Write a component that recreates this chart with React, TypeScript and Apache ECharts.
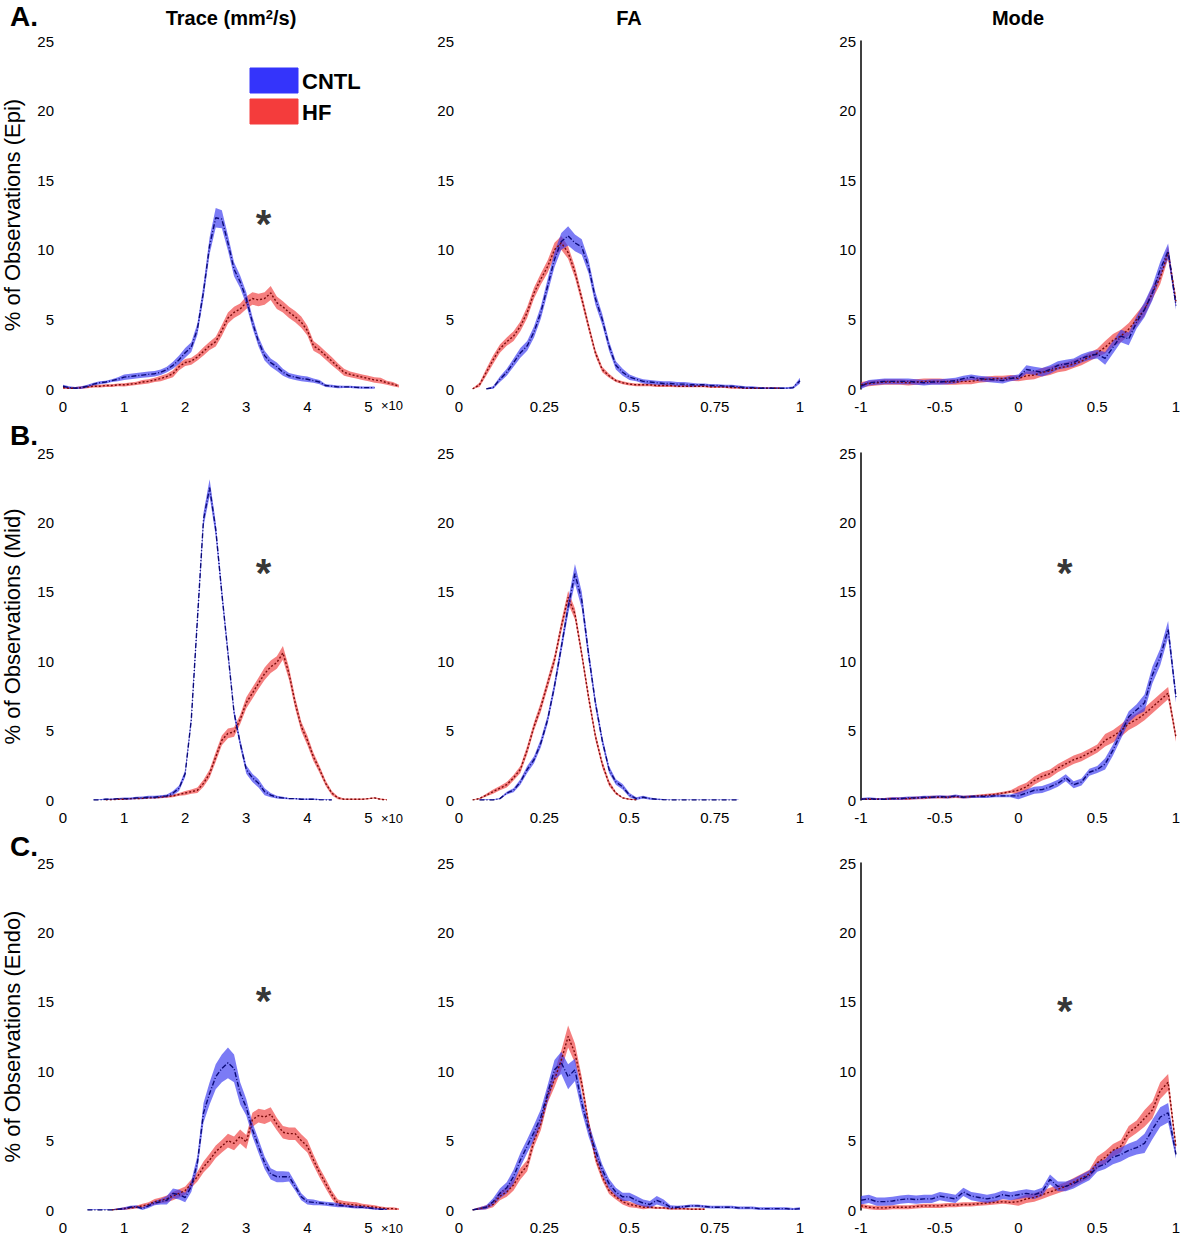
import React, { useEffect, useRef } from "react";
import * as echarts from "echarts";

// ---------- x grids ----------
const traceX = [0,0.1,0.2,0.3,0.4,0.5,0.6,0.7,0.8,0.9,1,1.1,1.2,1.3,1.4,1.5,1.6,1.7,1.8,1.9,2,2.1,2.2,2.3,2.4,2.5,2.6,2.7,2.8,2.9,3,3.1,3.2,3.3,3.4,3.5,3.6,3.7,3.8,3.9,4,4.1,4.2,4.3,4.4,4.5,4.6,4.7,4.8,4.9,5,5.1,5.2,5.3,5.4,5.5];
const faX = [0,0.02,0.04,0.06,0.08,0.1,0.12,0.14,0.16,0.18,0.2,0.22,0.24,0.26,0.28,0.3,0.32,0.34,0.36,0.38,0.4,0.42,0.44,0.46,0.48,0.5,0.52,0.54,0.56,0.58,0.6,0.62,0.64,0.66,0.68,0.7,0.72,0.74,0.76,0.78,0.8,0.82,0.84,0.86,0.88,0.9,0.92,0.94,0.96,0.98,1];
const modeX = [-1,-0.95,-0.9,-0.85,-0.8,-0.75,-0.7,-0.65,-0.6,-0.55,-0.5,-0.45,-0.4,-0.35,-0.3,-0.25,-0.2,-0.15,-0.1,-0.05,0,0.05,0.1,0.15,0.2,0.25,0.3,0.35,0.4,0.45,0.5,0.55,0.6,0.65,0.7,0.75,0.8,0.85,0.9,0.95,1];

const N = null;

// ---------- Trace (x10^-3 mm^2/s) ----------
const epiTraceCntl = [0.2,0.1,0.05,0.1,0.2,0.35,0.45,0.5,0.6,0.7, 0.85,0.9,0.95,1.0,1.05,1.1,1.2,1.4,1.7,2.1, 2.6,3.0,4.3,7.0,10.3,12.3,12.2,10.5,8.6,7.7, 6.5,4.8,3.4,2.4,1.9,1.6,1.2,0.95,0.85,0.75, 0.7,0.6,0.5,0.25,0.2,0.15,0.15,0.15,0.12,0.1, 0.1,0.1,N,N,N,N];
const epiTraceCntlErr = [0.1,0.1,0.1,0.1,0.1,0.1,0.1,0.1,0.1,0.15, 0.2,0.2,0.2,0.2,0.2,0.2,0.2,0.2,0.25,0.3, 0.35,0.35,0.4,0.5,0.6,0.7,0.65,0.55,0.5,0.45, 0.45,0.4,0.35,0.35,0.3,0.3,0.25,0.2,0.2,0.2, 0.2,0.15,0.15,0.1,0.1,0.1,0.08,0.08,0.08,0.08, 0.08,0.08,N,N,N,N];
const epiTraceHf = [0.1,0.05,0.05,0.1,0.15,0.2,0.2,0.25,0.25,0.3, 0.3,0.35,0.4,0.5,0.55,0.65,0.75,0.9,1.1,1.6, 1.9,2.0,2.3,2.7,3.1,3.4,4.2,5.1,5.5,5.75, 6.2,6.5,6.4,6.5,6.9,6.2,5.9,5.5,5.2,4.8, 4.2,3.1,2.8,2.4,2.0,1.6,1.2,1.05,0.95,0.85, 0.75,0.65,0.6,0.45,0.35,0.2];
const epiTraceHfErr = [0.1,0.1,0.1,0.1,0.1,0.1,0.1,0.1,0.1,0.1, 0.12,0.12,0.12,0.15,0.15,0.15,0.2,0.2,0.25,0.25, 0.25,0.25,0.25,0.3,0.3,0.35,0.4,0.4,0.4,0.4, 0.45,0.45,0.45,0.45,0.5,0.45,0.4,0.4,0.4,0.4, 0.35,0.35,0.3,0.3,0.3,0.25,0.25,0.2,0.2,0.2, 0.2,0.2,0.2,0.15,0.15,0.1];

const midTraceCntl = [N,N,N,N,N,0,0,0.05,0.05,0.1, 0.1,0.1,0.15,0.15,0.2,0.2,0.25,0.3,0.5,0.85, 1.9,5.8,13.0,20.2,22.5,19.5,14.9,10.6,6.3,4.1, 2.2,1.6,1.2,0.6,0.35,0.2,0.15,0.1,0.1,0.05, 0.05,0.05,0.02,0,0,N,N,N,N,N, N,N,N,N,N,N];
const midTraceCntlErr = [N,N,N,N,N,0.05,0.05,0.05,0.05,0.05, 0.08,0.08,0.08,0.1,0.1,0.1,0.1,0.1,0.15,0.2, 0.25,0.3,0.4,0.5,0.6,0.5,0.4,0.35,0.3,0.3, 0.3,0.3,0.3,0.25,0.15,0.1,0.08,0.05,0.05,0.05, 0.05,0.05,0.05,0.05,0.05,N,N,N,N,N, N,N,N,N,N,N];
const midTraceHf = [N,N,N,N,N,N,N,0,0.02,0.05, 0.05,0.1,0.1,0.12,0.15,0.15,0.2,0.25,0.3,0.4, 0.5,0.6,0.7,1.2,1.9,3.1,4.3,4.8,4.9,5.8, 7.0,7.7,8.4,9.1,9.6,9.9,10.6,9.1,7.0,5.3, 4.3,3.1,2.2,1.2,0.5,0.15,0.05,0.05,0.05,0.05, 0.1,0.15,0.05,0,N,N];
const midTraceHfErr = [N,N,N,N,N,N,N,0.05,0.05,0.05, 0.05,0.05,0.05,0.05,0.05,0.05,0.08,0.08,0.1,0.1, 0.15,0.15,0.2,0.25,0.3,0.35,0.35,0.35,0.35,0.35, 0.4,0.4,0.4,0.45,0.45,0.45,0.5,0.45,0.4,0.35, 0.35,0.3,0.25,0.2,0.15,0.1,0.05,0.05,0.05,0.05, 0.05,0.05,0.05,0.05,N,N];

const endoTraceCntl = [N,N,N,N,0,0,0,0,0,0.05, 0.1,0.2,0.25,0.1,0.3,0.5,0.6,0.7,1.2,1.1, 0.9,1.7,3.4,7.0,8.4,9.6,10.2,10.6,10.2,8.4, 7.4,5.8,4.6,3.4,2.6,2.4,2.4,2.4,1.7,0.95, 0.6,0.55,0.5,0.45,0.4,0.35,0.3,0.25,0.2,0.2, 0.15,0.1,0.05,0.05,N,N];
const endoTraceCntlErr = [N,N,N,N,0.05,0.05,0.05,0.05,0.05,0.08, 0.1,0.1,0.1,0.1,0.15,0.15,0.2,0.3,0.35,0.35, 0.35,0.4,0.5,0.7,0.8,0.9,1.0,1.1,1.0,0.8, 0.6,0.5,0.5,0.45,0.4,0.4,0.4,0.35,0.3,0.25, 0.2,0.2,0.15,0.15,0.15,0.15,0.1,0.1,0.1,0.1, 0.08,0.08,0.05,0.05,N,N];
const endoTraceHf = [N,N,N,N,N,N,N,N,0,0.05, 0.1,0.15,0.2,0.3,0.4,0.6,0.7,0.8,1.0,1.2, 1.4,1.9,2.4,3.1,3.6,4.2,4.6,5.0,4.8,5.3, 4.9,6.5,6.8,6.7,6.9,6.2,5.6,5.5,5.5,5.0, 4.6,3.6,2.7,1.9,1.1,0.5,0.45,0.4,0.35,0.3, 0.25,0.2,0.15,0.1,0.1,0.05];
const endoTraceHfErr = [N,N,N,N,N,N,N,N,0.05,0.05, 0.1,0.1,0.1,0.15,0.15,0.2,0.2,0.25,0.3,0.3, 0.3,0.3,0.35,0.4,0.45,0.45,0.45,0.5,0.5,0.5, 0.5,0.5,0.5,0.5,0.5,0.45,0.45,0.45,0.45,0.45, 0.45,0.4,0.35,0.35,0.3,0.25,0.2,0.2,0.2,0.15, 0.15,0.15,0.1,0.1,0.1,0.08];

// ---------- FA ----------
const epiFaCntl = [N,N,N,N,0,0.1,0.7,1.2,1.9,2.6, 3.1,4.1,5.5,7.4,9.3,10.6,11.0,10.5,10.2,8.8, 6.5,5.0,3.1,1.7,1.2,0.85,0.7,0.55,0.5,0.45, 0.4,0.4,0.35,0.35,0.3,0.3,0.3,0.25,0.25,0.2, 0.2,0.15,0.1,0.1,0.05,0.05,0.05,0.05,0.05,0.1, 0.6];
const epiFaCntlErr = [N,N,N,N,0.05,0.1,0.2,0.25,0.3,0.35, 0.35,0.4,0.45,0.5,0.55,0.6,0.7,0.6,0.55,0.5, 0.45,0.4,0.35,0.3,0.25,0.2,0.15,0.15,0.15,0.15, 0.15,0.15,0.15,0.15,0.15,0.1,0.1,0.1,0.1,0.1, 0.1,0.1,0.1,0.1,0.1,0.08,0.08,0.08,0.08,0.08, 0.2];
const epiFaHf = [N,N,0,0.3,1.2,2.1,2.9,3.4,3.8,4.5, 5.5,6.9,7.9,8.8,10.0,10.5,9.8,8.4,6.5,4.5, 2.6,1.4,0.95,0.6,0.45,0.35,0.3,0.3,0.3,0.25, 0.25,0.25,0.2,0.2,0.2,0.2,0.2,0.15,0.15,0.15, 0.1,0.1,0.05,0.05,0.05,0.05,0.05,0.05,N,N, N];
const epiFaHfErr = [N,N,0.05,0.15,0.25,0.3,0.3,0.3,0.35,0.35, 0.4,0.4,0.4,0.45,0.5,0.5,0.45,0.4,0.35,0.3, 0.25,0.2,0.15,0.1,0.1,0.1,0.1,0.1,0.1,0.1, 0.1,0.1,0.08,0.08,0.08,0.08,0.08,0.08,0.08,0.08, 0.08,0.08,0.08,0.08,0.08,0.08,0.08,0.08,N,N, N];

const midFaCntl = [N,N,N,0,0,0,0.1,0.5,0.7,1.3, 2.2,2.9,4.1,5.8,8.2,11.0,13.9,16.3,14.4,10.5, 7.0,4.3,2.2,1.3,0.95,0.35,0.1,0.2,0.1,0.05, 0.02,0,0,0,0,0,0,0,0,0, 0,0,N,N,N,N,N,N,N,N, N];
const midFaCntlErr = [N,N,N,0.05,0.05,0.05,0.05,0.1,0.15,0.2, 0.25,0.25,0.3,0.3,0.35,0.4,0.5,0.7,0.6,0.45, 0.35,0.3,0.25,0.2,0.2,0.15,0.1,0.1,0.08,0.05, 0.05,0.03,0.03,0.03,0.03,0.03,0.03,0.03,0.03,0.03, 0.03,0.03,N,N,N,N,N,N,N,N, N];
const midFaHf = [N,N,0,0.1,0.35,0.6,0.85,1.1,1.6,2.2, 3.6,5.3,6.7,8.4,10.1,12.5,14.6,13.4,10.5,7.4, 4.6,2.6,1.2,0.5,0.15,0.05,0,N,N,N, N,N,N,N,N,N,N,N,N,N, N,N,N,N,N,N,N,N,N,N, N];
const midFaHfErr = [N,N,0.03,0.05,0.1,0.15,0.15,0.2,0.2,0.25, 0.3,0.3,0.35,0.35,0.35,0.4,0.45,0.4,0.35,0.35, 0.3,0.25,0.2,0.1,0.05,0.05,0.03,N,N,N, N,N,N,N,N,N,N,N,N,N, N,N,N,N,N,N,N,N,N,N, N];

const endoFaCntl = [N,N,0,0.1,0.2,0.6,1.2,1.6,2.4,3.6, 4.6,5.6,6.7,8.4,10.1,10.6,9.6,10.1,7.7,5.8, 4.3,2.9,1.9,1.3,0.95,0.95,0.7,0.5,0.4,0.7, 0.5,0.2,0.2,0.25,0.3,0.3,0.25,0.2,0.2,0.2, 0.2,0.15,0.15,0.15,0.1,0.1,0.1,0.1,0.1,0.05, 0.1];
const endoFaCntlErr = [N,N,0.05,0.1,0.15,0.25,0.35,0.4,0.5,0.5, 0.5,0.55,0.55,0.6,0.7,0.8,0.9,0.8,0.6,0.5, 0.45,0.4,0.35,0.3,0.3,0.3,0.3,0.25,0.25,0.3, 0.25,0.15,0.1,0.1,0.1,0.1,0.1,0.1,0.1,0.1, 0.1,0.1,0.1,0.1,0.1,0.1,0.1,0.1,0.1,0.1, 0.1];
const endoFaHf = [N,N,0,0.1,0.2,0.4,1.0,1.3,1.8,2.6, 3.2,5.0,6.2,8.2,9.4,10.8,12.5,11.3,9.1,6.2, 3.8,2.4,1.4,0.95,0.6,0.4,0.3,0.2,0.2,0.15, 0.15,0.1,0.1,0.1,0.05,0.05,0.05,N,N,N, N,N,N,N,N,N,N,N,N,N, N];
const endoFaHfErr = [N,N,0.05,0.1,0.15,0.2,0.3,0.35,0.4,0.4, 0.4,0.45,0.45,0.5,0.55,0.7,0.8,0.7,0.5,0.4, 0.35,0.3,0.25,0.2,0.2,0.2,0.15,0.15,0.1,0.08, 0.08,0.08,0.08,0.08,0.08,0.08,0.08,N,N,N, N,N,N,N,N,N,N,N,N,N, N];

// ---------- Mode ----------
const epiModeCntl = [0.2,0.45,0.5,0.55,0.55,0.55,0.55,0.5,0.45,0.5, 0.5,0.55,0.6,0.75,0.85,0.75,0.7,0.65,0.6,0.75, 0.85,1.4,1.3,1.2,1.4,1.7,1.8,1.9,2.2,2.4, 2.5,2.2,3.0,3.8,3.6,4.8,5.7,6.9,8.6,9.9, 6.0];
const epiModeCntlErr = [0.2,0.2,0.2,0.2,0.2,0.2,0.2,0.2,0.2,0.2, 0.2,0.2,0.2,0.2,0.2,0.2,0.2,0.2,0.2,0.2, 0.2,0.3,0.3,0.3,0.3,0.3,0.3,0.3,0.3,0.3, 0.3,0.45,0.45,0.45,0.45,0.45,0.55,0.55,0.55,0.55, 0.3];
const epiModeHf = [0.3,0.4,0.45,0.5,0.5,0.5,0.45,0.5,0.55,0.55, 0.55,0.5,0.5,0.55,0.55,0.65,0.7,0.75,0.75,0.8, 0.75,0.95,1.0,1.2,1.3,1.5,1.6,1.8,2.0,2.3, 2.6,3.0,3.5,3.8,4.3,5.0,5.7,6.9,8.0,9.8, 6.3];
const epiModeHfErr = [0.2,0.2,0.2,0.2,0.2,0.2,0.2,0.2,0.2,0.2, 0.2,0.2,0.2,0.2,0.2,0.2,0.2,0.2,0.2,0.2, 0.2,0.3,0.3,0.3,0.3,0.3,0.3,0.3,0.3,0.3, 0.3,0.45,0.45,0.45,0.45,0.45,0.45,0.45,0.45,0.45, 0.3];

const midModeCntl = [0.05,0.1,0.05,0.05,0.1,0.1,0.15,0.15,0.2,0.2, 0.25,0.2,0.3,0.2,0.25,0.25,0.25,0.3,0.3,0.3, 0.3,0.5,0.7,0.75,0.95,1.2,1.6,1.1,1.3,2.0, 2.2,2.6,3.6,4.8,6.0,6.5,7.0,9.0,10.3,12.3, 7.4];
const midModeCntlErr = [0.1,0.1,0.1,0.1,0.1,0.1,0.1,0.1,0.1,0.1, 0.1,0.1,0.1,0.1,0.1,0.1,0.1,0.1,0.1,0.1, 0.25,0.25,0.25,0.25,0.25,0.25,0.25,0.25,0.25,0.25, 0.25,0.4,0.4,0.4,0.4,0.4,0.6,0.6,0.6,0.6, 0.4];
const midModeHf = [0.05,0.05,0.05,0.05,0.1,0.1,0.1,0.15,0.15,0.2, 0.2,0.2,0.25,0.2,0.25,0.3,0.35,0.4,0.5,0.6, 0.7,0.95,1.4,1.7,1.9,2.3,2.6,2.9,3.1,3.4, 3.7,4.3,4.6,5.0,5.5,5.8,6.2,6.7,7.2,7.7, 4.5];
const midModeHfErr = [0.1,0.1,0.1,0.1,0.1,0.1,0.1,0.1,0.1,0.1, 0.1,0.1,0.1,0.1,0.1,0.1,0.1,0.1,0.1,0.1, 0.3,0.3,0.3,0.3,0.3,0.3,0.3,0.3,0.3,0.3, 0.3,0.45,0.45,0.45,0.45,0.45,0.45,0.45,0.45,0.45, 0.3];

const endoModeCntl = [0.7,0.8,0.6,0.6,0.65,0.75,0.8,0.75,0.8,0.8, 1.0,0.9,0.8,1.3,1.0,0.9,0.8,0.9,1.1,1.0, 1.1,1.2,1.1,1.3,2.2,1.7,1.7,1.9,2.2,2.5, 3.1,3.3,3.8,4.0,4.3,4.5,4.8,5.8,6.7,7.0, 4.0];
const endoModeCntlErr = [0.3,0.3,0.3,0.3,0.3,0.3,0.3,0.3,0.3,0.3, 0.3,0.3,0.3,0.3,0.3,0.3,0.3,0.3,0.3,0.3, 0.3,0.3,0.3,0.3,0.35,0.35,0.35,0.35,0.35,0.35, 0.35,0.35,0.5,0.5,0.5,0.5,0.7,0.7,0.7,0.7, 0.3];
const endoModeHf = [0.3,0.2,0.15,0.15,0.2,0.2,0.2,0.25,0.3,0.3, 0.3,0.35,0.35,0.4,0.4,0.45,0.5,0.55,0.6,0.55, 0.6,0.8,0.9,1.1,1.3,1.5,1.7,2.0,2.3,2.6, 3.4,3.8,4.3,4.6,5.6,6.0,6.6,7.2,8.6,9.2, 4.5];
const endoModeHfErr = [0.15,0.15,0.15,0.15,0.15,0.15,0.15,0.15,0.15,0.15, 0.15,0.15,0.15,0.15,0.15,0.15,0.15,0.15,0.15,0.15, 0.3,0.3,0.3,0.3,0.3,0.3,0.3,0.3,0.3,0.3, 0.45,0.45,0.45,0.45,0.45,0.45,0.6,0.6,0.6,0.6, 0.3];

// ---------- labels ----------
const columnTitles = ["Trace (mm{sup|2}/s)", "FA", "Mode"];
const rowLetters = ["A.", "B.", "C."];
const rowNames = ["% of Observations (Epi)", "% of Observations (Mid)", "% of Observations (Endo)"];
const legendNames = ["CNTL", "HF"];
const yTicks = { min: 0, max: 25, interval: 5 };
const xTicks = [
  { min: 0, max: 5.5, interval: 1 },
  { min: 0, max: 1, interval: 0.25 },
  { min: -1, max: 1, interval: 0.5 },
];

type Arr = (number | null)[];
interface Panel { row: number; col: number; x: number[]; cntl: Arr; cntlErr: Arr; hf: Arr; hfErr: Arr; }

const panels: Panel[] = [
  { row: 0, col: 0, x: traceX, cntl: epiTraceCntl, cntlErr: epiTraceCntlErr, hf: epiTraceHf, hfErr: epiTraceHfErr },
  { row: 0, col: 1, x: faX, cntl: epiFaCntl, cntlErr: epiFaCntlErr, hf: epiFaHf, hfErr: epiFaHfErr },
  { row: 0, col: 2, x: modeX, cntl: epiModeCntl, cntlErr: epiModeCntlErr, hf: epiModeHf, hfErr: epiModeHfErr },
  { row: 1, col: 0, x: traceX, cntl: midTraceCntl, cntlErr: midTraceCntlErr, hf: midTraceHf, hfErr: midTraceHfErr },
  { row: 1, col: 1, x: faX, cntl: midFaCntl, cntlErr: midFaCntlErr, hf: midFaHf, hfErr: midFaHfErr },
  { row: 1, col: 2, x: modeX, cntl: midModeCntl, cntlErr: midModeCntlErr, hf: midModeHf, hfErr: midModeHfErr },
  { row: 2, col: 0, x: traceX, cntl: endoTraceCntl, cntlErr: endoTraceCntlErr, hf: endoTraceHf, hfErr: endoTraceHfErr },
  { row: 2, col: 1, x: faX, cntl: endoFaCntl, cntlErr: endoFaCntlErr, hf: endoFaHf, hfErr: endoFaHfErr },
  { row: 2, col: 2, x: modeX, cntl: endoModeCntl, cntlErr: endoModeCntlErr, hf: endoModeHf, hfErr: endoModeHfErr },
];

// significance markers: [row, col, data-x, data-y]
const stars: [number, number, number, number][] = [
  [0, 0, 3.3, 12.2],
  [1, 0, 3.3, 16.7],
  [2, 0, 3.3, 15.4],
  [1, 2, 0.3, 16.7],
  [2, 2, 0.3, 14.7],
];

// ---------- layout ----------
const FONT = '"Liberation Sans", Arial, Helvetica, sans-serif';
const colLayout = [
  { left: 62, width: 337, labelMargin: 9 },
  { left: 459, width: 341, labelMargin: 5 },
  { left: 861, width: 315, labelMargin: 5 },
];
const rowLayout = [
  { top: 41, height: 348 },
  { top: 453, height: 347 },
  { top: 863, height: 347 },
];
const CNTL_FILL = "rgba(55,55,240,0.66)";
const HF_FILL = "rgba(240,55,55,0.64)";
const CNTL_LINE = "#0a0a78";
const HF_LINE = "#7a0a0a";

// shaded mean ± error band drawn as polygons through the axis scales
function bandSeries(idx: number, x: number[], mean: Arr, err: Arr, color: string) {
  const rows = x.map((xv, i) => {
    const m = mean[i], e = err[i];
    return m == null || e == null ? [xv, NaN, NaN] : [xv, Math.max(0, m - e), m + e];
  });
  return {
    type: "custom", xAxisIndex: idx, yAxisIndex: idx, silent: true, z: 2, clip: true,
    data: rows,
    encode: { x: 0, y: [1, 2] },
    renderItem: (params: any, api: any) => {
      if (params.dataIndex !== 0) return null;
      const children: any[] = [];
      let seg: number[][] = [];
      const flush = () => {
        if (seg.length >= 2) {
          const top = seg.map((r) => api.coord([r[0], r[2]]));
          const bot = seg.slice().reverse().map((r) => api.coord([r[0], r[1]]));
          children.push({ type: "polygon", shape: { points: top.concat(bot) },
            style: { fill: color, stroke: null } });
        }
        seg = [];
      };
      rows.forEach((r) => {
        if (isNaN(r[1])) flush(); else seg.push(r);
      });
      flush();
      return { type: "group", children };
    },
  };
}

function meanSeries(idx: number, x: number[], mean: Arr, color: string, dash: number[]) {
  return {
    type: "line", xAxisIndex: idx, yAxisIndex: idx, symbol: "none", silent: true, z: 4,
    data: x.map((xv, i) => [xv, mean[i]]),
    lineStyle: { color, width: 1.4, type: dash },
  };
}

function buildOption() {
  const grid: any[] = [];
  const xAxis: any[] = [];
  const yAxis: any[] = [];
  const series: any[] = [];
  panels.forEach((p, idx) => {
    const c = colLayout[p.col];
    const r = rowLayout[p.row];
    grid.push({ left: c.left, top: r.top, width: c.width, height: r.height, containLabel: false });
    const xt = xTicks[p.col];
    xAxis.push({
      type: "value", gridIndex: idx, min: xt.min, max: xt.max, interval: xt.interval,
      axisLine: { show: false, onZero: false }, axisTick: { show: false }, splitLine: { show: false },
      axisLabel: { show: true, color: "#000", fontSize: 15, fontFamily: FONT, margin: 10,
        showMaxLabel: p.col !== 0, showMinLabel: true },
    });
    yAxis.push({
      type: "value", gridIndex: idx, min: yTicks.min, max: yTicks.max, interval: yTicks.interval,
      axisLine: { show: p.col === 2, onZero: false, lineStyle: { color: "#000", width: 1.5 } },
      axisTick: { show: false }, splitLine: { show: false },
      axisLabel: { color: "#000", fontSize: 15, fontFamily: FONT, margin: c.labelMargin },
      name: p.col === 0 ? rowNames[p.row] : "",
      nameLocation: "middle", nameRotate: 90, nameGap: 40,
      nameTextStyle: { color: "#000", fontSize: 22, fontFamily: FONT },
    });
    series.push(bandSeries(idx, p.x, p.hf, p.hfErr, HF_FILL));
    series.push(bandSeries(idx, p.x, p.cntl, p.cntlErr, CNTL_FILL));
    series.push(meanSeries(idx, p.x, p.hf, HF_LINE, [2, 2]));
    series.push(meanSeries(idx, p.x, p.cntl, CNTL_LINE, [5, 2, 1, 2]));
  });

  stars.forEach(([row, col, sx, sy]) => {
    const idx = row * 3 + col;
    series.push({
      type: "scatter", xAxisIndex: idx, yAxisIndex: idx, symbolSize: 0, silent: true, z: 6,
      data: [[sx, sy]],
      label: { show: true, position: "inside", formatter: "*", color: "#000",
        fontSize: 40, fontWeight: "bold", fontFamily: FONT, offset: [-1, 5] },
    });
  });

  const graphic: any[] = [];
  const titleX = [231, 629, 1018];
  columnTitles.forEach((t, i) => {
    graphic.push({
      type: "text", x: titleX[i], y: 18,
      style: { text: t, align: "center", verticalAlign: "middle", fill: "#000",
        fontSize: 20, fontWeight: "bold", fontFamily: FONT,
        rich: { sup: { fontSize: 13, fontWeight: "bold", fontFamily: FONT, verticalAlign: "top", padding: [0, 0, 8, 0] } } },
    });
  });
  const letterY = [16, 435, 846];
  rowLetters.forEach((t, i) => {
    graphic.push({
      type: "text", x: 10, y: letterY[i],
      style: { text: t, align: "left", verticalAlign: "middle", fill: "#000",
        fontSize: 28, fontWeight: "bold", fontFamily: FONT },
    });
  });
  const legendFills = ["#3434fb", "#f43c3c"];
  const legendTop = [68, 99];
  legendNames.forEach((n, i) => {
    graphic.push({ type: "rect", shape: { x: 250, y: legendTop[i], width: 48, height: 25 },
      style: { fill: legendFills[i], stroke: legendFills[i], lineWidth: 1 } });
    graphic.push({ type: "text", x: 302, y: legendTop[i] + 13,
      style: { text: n, align: "left", verticalAlign: "middle", fill: "#000",
        fontSize: 22, fontWeight: "bold", fontFamily: FONT } });
  });
  const expY = [405, 818, 1228];
  expY.forEach((y) => {
    graphic.push({ type: "text", x: 381, y,
      style: { text: "×10", align: "left", verticalAlign: "middle", fill: "#000", fontSize: 13, fontFamily: FONT } });
  });

  return {
    animation: false,
    backgroundColor: "#ffffff",
    grid, xAxis, yAxis, series, graphic,
  };
}

export default function App() {
  const ref = useRef<HTMLDivElement>(null);
  useEffect(() => {
    if (!ref.current) return;
    const chart = echarts.init(ref.current, undefined, { renderer: "svg" });
    chart.setOption(buildOption() as any);
    return () => chart.dispose();
  }, []);
  return (
    <div
      ref={ref}
      style={{ position: "absolute", left: 0, top: 0, width: 1200, height: 1237, background: "#fff" }}
    />
  );
}
